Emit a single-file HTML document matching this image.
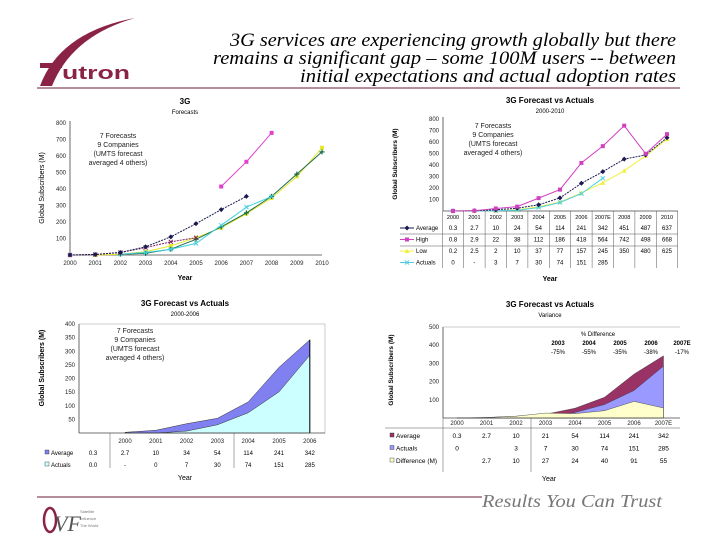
<!DOCTYPE html>
<html><head><meta charset="utf-8"><style>
body{margin:0;background:#fff}
svg{display:block;font-family:"Liberation Sans",sans-serif}
.t{font-size:6px;fill:#222}
</style></head><body>
<svg id="s" width="720" height="540" viewBox="0 0 720 540" xmlns="http://www.w3.org/2000/svg">
<g>
<path d="M40 86 Q60 32 135 18 Q72 36 52 86 Z" fill="#8b2346"/>
<rect x="40" y="63" width="22" height="5" fill="#8b2346"/>
<text x="62" y="79" font-size="18" font-weight="bold" fill="#8b2346" textLength="68" lengthAdjust="spacingAndGlyphs">utron</text>
</g>
<g font-family="Liberation Serif,serif" font-style="italic" font-size="19" text-anchor="end" fill="#000">
<text x="676" y="46" textLength="446" lengthAdjust="spacingAndGlyphs">3G services are experiencing growth globally but there</text>
<text x="676" y="64" textLength="463" lengthAdjust="spacingAndGlyphs">remains a significant gap – some 100M users -- between</text>
<text x="676" y="82" textLength="376" lengthAdjust="spacingAndGlyphs">initial expectations and actual adoption rates</text>
</g>
<line x1="37" y1="88" x2="680" y2="88" stroke="#6b1e3a" stroke-width="1"/>
<line x1="37" y1="497" x2="482" y2="497" stroke="#6b1e3a" stroke-width="1"/>
<text x="662" y="507" text-anchor="end" font-family="Liberation Serif,serif" font-style="italic" font-size="18" fill="#777" textLength="180" lengthAdjust="spacingAndGlyphs">Results You Can Trust</text>
<g>
<ellipse cx="50" cy="520" rx="6" ry="12" fill="none" stroke="#8b2346" stroke-width="2.5"/>
<text x="54" y="531" font-family="Liberation Serif,serif" font-style="italic" font-size="22" fill="#555">VF</text>
<text x="80" y="513" font-size="4" fill="#777">Satellite</text><text x="80" y="520" font-size="4" fill="#777">Influence</text><text x="80" y="527" font-size="4" fill="#777">The World</text>
</g>
<g id="c1"></g>
<g id="c2"></g>
<g id="c3"></g>
<g id="c4"></g>
</svg>
<script>
// Chart 1 data
const c1Years=['2000','2001','2002','2003','2004','2005','2006','2007','2008','2009','2010'];
const c1Avg=[0,3,15,50,110,190,275,355,null,null,null];
const c1High=[null,null,null,null,null,null,415,565,740,null,null];
const c1Purple=[0,3,15,45,80,105,null,null,null,null,null];
const c1Yellow=[null,0,5,20,55,105,165,250,345,475,650];
const c1Cyan=[null,null,5,15,35,70,180,290,355,null,null];
const c1Green=[null,null,5,10,35,95,170,255,355,490,625];
const c1Ticks=[100,200,300,400,500,600,700,800];
// Chart 2 data
const c2Years=['2000','2001','2002','2003','2004','2005','2006','2007E','2008','2009','2010'];
const c2Avg=[0.3,2.7,10,24,54,114,241,342,451,487,637];
const c2High=[0.8,2.9,22,38,112,186,418,564,742,498,668];
const c2Low=[0.2,2.5,2,10,37,77,157,245,350,480,625];
const c2Act=[0,null,3,7,30,74,151,285,null,null,null];
const c2Ticks=[100,200,300,400,500,600,700,800];
// Chart 3 data
const c3Years=['2000','2001','2002','2003','2004','2005','2006'];
const c3Avg=[2.7,10,34,54,114,241,342];
const c3Act=[0,0,7,30,74,151,285];
const c3Ticks=[50,100,150,200,250,300,350,400];
// Chart 4 data
const c4Years=['2000','2001','2002','2003','2004','2005','2006','2007E'];
const c4Avg=[0.3,2.7,10,21,54,114,241,342];
const c4Act=[0,null,3,7,30,74,151,285];
const c4Diff=[null,2.7,10,27,24,40,91,55];
const c4PctYears=['2003','2004','2005','2006','2007E'];
const c4Pct=['-75%','-55%','-35%','-38%','-17%'];
const c4Ticks=[100,200,300,400,500];

const NS='http://www.w3.org/2000/svg';
function el(p,tag,a,txt){const e=document.createElementNS(NS,tag);for(const k in a)e.setAttribute(k,a[k]);if(txt!==undefined)e.textContent=txt;p.appendChild(e);return e;}
function fmt(v){return v===null?'-':String(v);}
function poly(vals,sx,sy){const pts=[];vals.forEach((v,i)=>{if(v!==null)pts.push(sx(i).toFixed(1)+','+sy(v).toFixed(1));});return pts.join(' ');}
function marker(g,type,x,y,c){
  if(type==='sq')return el(g,'rect',{x:x-2,y:y-2,width:4,height:4,fill:c});
  if(type==='dia')return el(g,'path',{d:`M${x} ${y-2.5}L${x+2.5} ${y}L${x} ${y+2.5}L${x-2.5} ${y}Z`,fill:c});
  if(type==='tri')return el(g,'path',{d:`M${x} ${y-2.5}L${x+2.5} ${y+2}L${x-2.5} ${y+2}Z`,fill:c});
  if(type==='x')return el(g,'path',{d:`M${x-2} ${y-2}L${x+2} ${y+2}M${x+2} ${y-2}L${x-2} ${y+2}`,stroke:c,'stroke-width':1});
  if(type==='+')return el(g,'path',{d:`M${x-2.5} ${y}L${x+2.5} ${y}M${x} ${y-2.5}L${x} ${y+2.5}`,stroke:c,'stroke-width':1.2});
}
function series(g,name,vals,sx,sy,c,mk,dash){
  const s=el(g,'g',{});
  
  
  el(s,'polyline',{points:poly(vals,sx,sy),fill:'none',stroke:c,'stroke-width':1,'stroke-dasharray':dash||'none'});
  vals.forEach((v,i)=>{if(v!==null){marker(s,mk,sx(i),sy(v),c);}});
}
function yaxis(g,ticks,sy,x,top,bottom){
  el(g,'line',{x1:x,y1:top,x2:x,y2:bottom,stroke:'#444','stroke-width':0.8});
  ticks.forEach(t=>{const tx=el(g,'text',{x:x-4,y:sy(t)+2,class:'t','text-anchor':'end'},String(t));
    
    });
}
function note(g,x,y){['7 Forecasts','9 Companies','(UMTS forecast','averaged 4 others)'].forEach((s,i)=>el(g,'text',{x:x,y:y+i*9,'font-size':7,'text-anchor':'middle',fill:'#222'},s));}
function titles(g,x,y,t,sub){el(g,'text',{x:x,y:y,'font-size':8,'font-weight':'bold','text-anchor':'middle'},t);el(g,'text',{x:x,y:y+10,'font-size':6,'text-anchor':'middle'},sub);}

// ---- Chart 1
(function(){
 const g=document.getElementById('c1');
 const sx=i=>70+i*25.2, sy=v=>255-v*(132/800);
 titles(g,185,104,'3G','Forecasts');
 yaxis(g,c1Ticks,sy,70,121,255);
 el(g,'line',{x1:70,y1:255,x2:322,y2:255,stroke:'#444','stroke-width':0.8});
 c1Years.forEach((y,i)=>el(g,'text',{x:sx(i),y:265,class:'t','text-anchor':'middle'},y));
 el(g,'text',{x:185,y:280,'font-size':7,'font-weight':'bold','text-anchor':'middle'},'Year');
 el(g,'text',{x:44,y:188,'font-size':7,'text-anchor':'middle',transform:'rotate(-90 44 188)'},'Global Subscribers (M)');
 note(g,118,138);
 series(g,'series-yellow',c1Yellow,sx,sy,'#e8e830','sq');
 series(g,'series-green',c1Green,sx,sy,'#1a6b4a','+');
 series(g,'series-cyan',c1Cyan,sx,sy,'#40d0e0','x');
 series(g,'series-purple',c1Purple,sx,sy,'#802060','x','2,1');
 series(g,'series-average',c1Avg,sx,sy,'#1a1a50','dia','2,1');
 series(g,'series-high',c1High,sx,sy,'#e040d0','sq');
})();

// ---- Chart 2
(function(){
 const g=document.getElementById('c2');
 const sx=i=>453+i*21.4, sy=v=>211-v*(92/800);
 titles(g,550,103,'3G Forecast vs Actuals','2000-2010');
 yaxis(g,c2Ticks,sy,443,117,211);
 el(g,'line',{x1:443,y1:211,x2:678,y2:211,stroke:'#444','stroke-width':0.8});
 el(g,'text',{x:397,y:164,'font-size':6.5,'font-weight':'bold','text-anchor':'middle',transform:'rotate(-90 397 164)'},'Global Subscribers (M)');
 note(g,493,128);
 series(g,'series-low',c2Low,sx,sy,'#f0f040','tri');
 series(g,'series-actuals',c2Act,sx,sy,'#50d0e0','x');
 series(g,'series-average',c2Avg,sx,sy,'#1a1a50','dia','2,1');
 series(g,'series-high',c2High,sx,sy,'#d040c0','sq');
 const rows=[['Average',c2Avg,'#1a1a50','dia'],['High',c2High,'#d040c0','sq'],['Low',c2Low,'#f0f040','tri'],['Actuals',c2Act,'#50d0e0','x']];
 c2Years.forEach((y,i)=>el(g,'text',{x:sx(i),y:219,'font-size':5.5,'text-anchor':'middle'},y));
 for(let i=0;i<=11;i++){el(g,'line',{x1:sx(i)-10.7,y1:211,x2:sx(i)-10.7,y2:268,stroke:'#555','stroke-width':0.5});}
 el(g,'line',{x1:400,y1:234,x2:678,y2:234,stroke:'#555','stroke-width':0.5});
 el(g,'line',{x1:400,y1:246,x2:678,y2:246,stroke:'#555','stroke-width':0.5});
 rows.forEach((r,j)=>{const y=230+j*11.5;
  const lg=el(g,'g',{});
  
  
  el(lg,'line',{x1:400,y1:y-2,x2:414,y2:y-2,stroke:r[2],'stroke-width':1});marker(lg,r[3],407,y-2,r[2]);
  el(lg,'text',{x:416,y:y,'font-size':6},r[0]);
  r[1].forEach((v,i)=>{if(v===null&&j===3&&i>7)return;el(lg,'text',{x:sx(i),y:y,'font-size':6,'text-anchor':'middle'},fmt(v));});});
 el(g,'text',{x:550,y:281,'font-size':7,'font-weight':'bold','text-anchor':'middle'},'Year');
})();

// ---- Chart 3
(function(){
 const g=document.getElementById('c3');
 const sx=i=>125+i*30.8, sy=v=>433-v*(109/400);
 titles(g,185,306,'3G Forecast vs Actuals','2000-2006');
 yaxis(g,c3Ticks,sy,79,324,433);
 el(g,'line',{x1:79,y1:324,x2:325,y2:324,stroke:'#999','stroke-width':0.5});
 el(g,'line',{x1:325,y1:324,x2:325,y2:433,stroke:'#999','stroke-width':0.5});
 const area=(vals,c,n)=>{const a=el(g,'polygon',{points:poly(vals,sx,sy)+` ${sx(vals.length-1)},433 ${sx(0)},433`,fill:c,stroke:'#333','stroke-width':0.5});
  };
 area(c3Avg,'#8080f0','area-average');area(c3Act,'#ccffff','area-actuals');
 el(g,'line',{x1:sx(6),y1:sy(c3Avg[6]),x2:sx(6),y2:433,stroke:'#000','stroke-width':1});
 el(g,'line',{x1:79,y1:433,x2:325,y2:433,stroke:'#444','stroke-width':0.8});
 el(g,'text',{x:44,y:368,'font-size':7,'font-weight':'bold','text-anchor':'middle',transform:'rotate(-90 44 368)'},'Global Subscribers (M)');
 note(g,135,333);
 c3Years.forEach((y,i)=>el(g,'text',{x:sx(i),y:443,class:'t','text-anchor':'middle'},y));
 el(g,'line',{x1:110,y1:433,x2:110,y2:468,stroke:'#555','stroke-width':0.5});
 el(g,'line',{x1:234,y1:433,x2:234,y2:468,stroke:'#555','stroke-width':0.5});
 [['Average',c3Avg,'0.3','#8080f0'],['Actuals',c3Act,'0.0','#ccffff']].forEach((r,j)=>{const y=455+j*12;
  el(g,'rect',{x:45,y:y-5,width:4,height:4,fill:r[3],stroke:'#333','stroke-width':0.4});
  el(g,'text',{x:51,y:y,'font-size':6},r[0]);el(g,'text',{x:93,y:y,'font-size':6,'text-anchor':'middle'},r[2]);
  r[1].forEach((v,i)=>el(g,'text',{x:sx(i),y:y,'font-size':6,'text-anchor':'middle'},(j===1&&i===0)?'-':String(v)));});
 el(g,'text',{x:185,y:480,'font-size':7,'text-anchor':'middle'},'Year');
})();

// ---- Chart 4
(function(){
 const g=document.getElementById('c4');
 const sx=i=>457+i*29.5, sy=v=>418-v*(91/500);
 titles(g,550,307,'3G Forecast vs Actuals','Variance');
 yaxis(g,c4Ticks,sy,443,327,418);
 el(g,'line',{x1:443,y1:327,x2:680,y2:327,stroke:'#999','stroke-width':0.5});
 const z=a=>a.map(v=>v===null?0:v);
 const area=(vals,c,n)=>{const a=el(g,'polygon',{points:poly(z(vals),sx,sy)+` ${sx(vals.length-1)},418 ${sx(0)},418`,fill:c,stroke:'#333','stroke-width':0.4});
  };
 area(c4Avg,'#993366','area-average');area(c4Act,'#9999ff','area-actuals');area(c4Diff,'#ffffcc','area-difference');
 el(g,'line',{x1:443,y1:418,x2:680,y2:418,stroke:'#444','stroke-width':0.8});
 el(g,'text',{x:393,y:370,'font-size':6.5,'font-weight':'bold','text-anchor':'middle',transform:'rotate(-90 393 370)'},'Global Subscribers (M)');
 el(g,'text',{x:598,y:336,'font-size':6,'text-anchor':'middle'},'% Difference');
 c4PctYears.forEach((y,i)=>{const x=558+i*31;el(g,'text',{x:x,y:345,'font-size':6,'font-weight':'bold','text-anchor':'middle'},y);el(g,'text',{x:x,y:354,'font-size':6,'text-anchor':'middle'},c4Pct[i]);});
 c4Years.forEach((y,i)=>el(g,'text',{x:sx(i),y:425,class:'t','text-anchor':'middle'},y));
 el(g,'line',{x1:385,y1:428,x2:680,y2:428,stroke:'#555','stroke-width':0.5});
 el(g,'line',{x1:443,y1:418,x2:443,y2:472,stroke:'#555','stroke-width':0.5});
 el(g,'line',{x1:531,y1:418,x2:531,y2:472,stroke:'#555','stroke-width':0.5});
 [['Average',c4Avg,'#993366'],['Actuals',c4Act,'#9999ff'],['Difference (M)',c4Diff,'#ffffcc']].forEach((r,j)=>{const y=438+j*12.5;
  el(g,'rect',{x:390,y:y-5,width:4,height:4,fill:r[2],stroke:'#333','stroke-width':0.4});
  el(g,'text',{x:396,y:y,'font-size':6.5},r[0]);
  r[1].forEach((v,i)=>{if(v!==null)el(g,'text',{x:sx(i),y:y,'font-size':6.5,'text-anchor':'middle'},String(v));});});
 el(g,'text',{x:549,y:481,'font-size':7,'text-anchor':'middle'},'Year');
})();
</script>
</body></html>
